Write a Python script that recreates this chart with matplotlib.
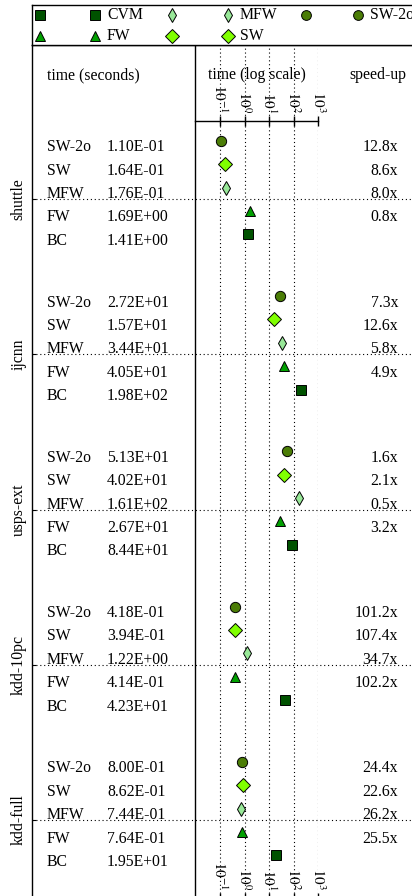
import matplotlib.pyplot as plt
from matplotlib.ticker import NullLocator

plt.rcParams['font.family'] = ['Liberation Serif', 'DejaVu Serif']
plt.rcParams['mathtext.fontset'] = 'stix'
plt.rcParams['font.size'] = 11.3
plt.rcParams['axes.linewidth'] = 1.0

datasets = ['shuttle', 'ijcnn', 'usps-ext', 'kdd-10pc', 'kdd-full']
methods = ['SW-2o', 'SW', 'MFW', 'FW', 'BC']

# run times in seconds, one entry per dataset
sw2o_time = [1.10e-01, 2.72e+01, 5.13e+01, 4.18e-01, 8.00e-01]
sw_time = [1.64e-01, 1.57e+01, 4.02e+01, 3.94e-01, 8.62e-01]
mfw_time = [1.76e-01, 3.44e+01, 1.61e+02, 1.22e+00, 7.44e-01]
fw_time = [1.69e+00, 4.05e+01, 2.67e+01, 4.14e-01, 7.64e-01]
bc_time = [1.41e+00, 1.98e+02, 8.44e+01, 4.23e+01, 1.95e+01]

# speed-up w.r.t. BC
sw2o_speedup = [12.8, 7.3, 1.6, 101.2, 24.4]
sw_speedup = [8.6, 12.6, 2.1, 107.4, 22.6]
mfw_speedup = [8.0, 5.8, 0.5, 34.7, 26.2]
fw_speedup = [0.8, 4.9, 3.2, 102.2, 25.5]

decades = [-1, 0, 1, 2, 3]

times = {'SW-2o': sw2o_time, 'SW': sw_time, 'MFW': mfw_time,
         'FW': fw_time, 'BC': bc_time}
speedups = {'SW-2o': sw2o_speedup, 'SW': sw_speedup,
            'MFW': mfw_speedup, 'FW': fw_speedup}

styles = {
    'SW-2o': dict(marker='o', color='#4b7d06', ms=7.4),
    'SW': dict(marker='D', color='#80ff00', ms=7.0),
    'MFW': dict(marker='d', color='#98e898', ms=7.2),
    'FW': dict(marker='^', color='#00a000', ms=7.8),
    'BC': dict(marker='s', color='#005200', ms=7.6),
}

W, H = 412, 896
ROW = 23.4      # pixels between two method rows
GROUP = 6.635   # rows between two datasets
LINE0 = 199     # pixel row of the first dataset separator


def box(x0, y0, x1, y1):
    # pixel box measured from the top-left corner -> figure fraction
    return [x0 / W, 1 - y1 / H, (x1 - x0) / W, (y1 - y0) / H]


def to_row(py):
    return (py - LINE0) / ROW


dot = (0, (1, 2.5))
fig = plt.figure(figsize=(W / 100, H / 100), dpi=100)

# table part: names, times, speed-ups
ax = fig.add_axes(box(32, 45, 420, 910))
ax.set_xlim(32, 420)
ax.set_ylim(to_row(910), to_row(45))
for s in ['right', 'bottom']:
    ax.spines[s].set_visible(False)
ax.set_xticks([])
ax.set_yticks([g * GROUP for g in range(len(datasets))], datasets,
              rotation=90, va='center')
ax.tick_params(axis='y', direction='in', length=3, pad=4)

# time axis (log scale)
lax = fig.add_axes(box(195.4, 45, 318.3, 910))
lax.set_xscale('log')
lax.set_xlim(1e-2, 1e3)
lax.set_ylim(ax.get_ylim())
lax.patch.set_visible(False)
for s in ['right', 'bottom', 'top']:
    lax.spines[s].set_visible(False)
lax.set_xticks([])
lax.xaxis.set_minor_locator(NullLocator())
lax.set_yticks([])
for e in decades:
    lax.axvline(10.0 ** e, ls=dot, lw=0.8, color='k')

ty0 = to_row(75)
ax.text(47, ty0, 'time (seconds)', va='center')
ax.text(257, ty0, 'time (log scale)', ha='center', va='center')
ax.text(378, ty0, 'speed-up', ha='center', va='center')

for g in range(len(datasets)):
    base = g * GROUP
    ax.axhline(base, ls=dot, lw=0.8, color='k')
    for k, m in enumerate(methods):
        ty = base + k - 2 - 0.21
        ax.text(47, ty, m, va='center')
        ax.text(107, ty, '%.2E' % times[m][g], va='center')
        if m in speedups:
            ax.text(398, ty, '%.1fx' % speedups[m][g], ha='right', va='center')
        st = styles[m]
        lax.plot(times[m][g], ty - 0.28, ls='none', marker=st['marker'],
                 ms=st['ms'], mfc=st['color'], mec='k', mew=0.7, zorder=3)

# decade ticks at the top and at the bottom
for py in [121, 898]:
    tax = fig.add_axes(box(195.4, py, 318.3, py))
    tax.set_xscale('log')
    tax.set_xlim(1e-2, 1e3)
    tax.patch.set_visible(False)
    for s in ['right', 'left', 'bottom']:
        tax.spines[s].set_visible(False)
    tax.set_xticks([10.0 ** e for e in decades],
                   ['$10^{%d}$' % e for e in decades])
    tax.xaxis.set_minor_locator(NullLocator())
    tax.set_yticks([])
    tax.tick_params(axis='x', bottom=False, top=True, labelbottom=False,
                    labeltop=True, direction='inout', length=7, width=1,
                    pad=2, labelrotation=-90, labelsize=11)

# legend strip
leg = fig.add_axes(box(32, 5, 420, 45))
leg.set_xlim(32, 420)
leg.set_ylim(45, 5)
leg.spines['right'].set_visible(False)
leg.set_xticks([])
leg.set_yticks([])
legend_entries = [
    ('BC', 40, 15, None), ('BC', 95, 15, 'CVM'),
    ('MFW', 172, 15, None), ('MFW', 228, 15, 'MFW'),
    ('SW-2o', 306, 15, None), ('SW-2o', 358, 15, 'SW-2o'),
    ('FW', 40, 36, None), ('FW', 95, 36, 'FW'),
    ('SW', 172, 36, None), ('SW', 228, 36, 'SW'),
]
for m, lx, ly, label in legend_entries:
    st = styles[m]
    leg.plot(lx, ly, ls='none', marker=st['marker'], ms=st['ms'] * 0.95,
             mfc=st['color'], mec='k', mew=0.7)
    if label:
        leg.text(lx + 12, ly, label, va='center')

fig.savefig('out.png', dpi=100)
